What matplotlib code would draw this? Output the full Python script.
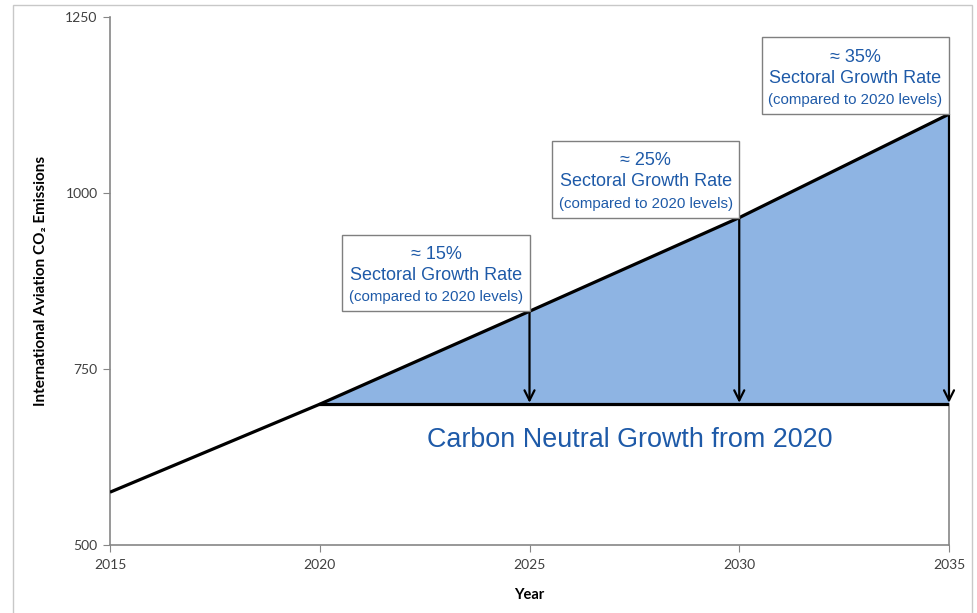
import matplotlib.pyplot as plt
import matplotlib.patches as patches

# emissions path
years = [2015, 2020, 2025, 2030, 2035]
emissions = [575, 700, 832, 965, 1112]
baseline = 700
base_year = 2020

arrow_years = [2025, 2030, 2035]
growth_labels = ['\u2248 15%', '\u2248 25%', '\u2248 35%']

text_blue = '#1E5AA8'
fill_blue = '#8EB4E3'
label_font = ['Lato', 'DejaVu Sans']
box_font = ['Liberation Sans', 'DejaVu Sans']

fig = plt.figure(figsize=(9.77, 6.13), dpi=100)
ax = fig.add_axes([110 / 977, 68 / 613, 839 / 977, 528 / 613])

# light frame round the whole chart
fig.patches.append(patches.Rectangle((13 / 977, -0.01), 959 / 977, 1 - 5 / 613 + 0.01,
                                     transform=fig.transFigure, fill=False,
                                     edgecolor='#c8c8c8', linewidth=1))

# shaded growth wedge above the 2020 level
xs = [y for y in years if y >= base_year]
ys = [e for y, e in zip(years, emissions) if y >= base_year]
ax.fill_between(xs, [baseline] * len(xs), ys, color=fill_blue, linewidth=0, zorder=1)

ax.plot(years, emissions, color='black', linewidth=2.3, zorder=3, solid_capstyle='butt')
ax.plot([base_year, years[-1]], [baseline, baseline], color='black', linewidth=2.3, zorder=3)

for yr in arrow_years:
    top = emissions[years.index(yr)]
    ax.annotate('', xy=(yr, baseline + 2), xytext=(yr, top),
                arrowprops=dict(arrowstyle='->', color='black', lw=1.6,
                                mutation_scale=18, shrinkA=0, shrinkB=0),
                zorder=4)

# callout boxes, bottom-right corner on the line
box_w = 4.46
box_h = 109
px = 250 / 176
for yr, lab in zip(arrow_years, growth_labels):
    top = emissions[years.index(yr)]
    ax.add_patch(patches.Rectangle((yr - box_w, top), box_w, box_h, facecolor='white',
                                   edgecolor='#7f7f7f', linewidth=1, zorder=5, clip_on=False))
    cx = yr - box_w / 2
    ax.text(cx, top + 57 * px, lab, ha='center', va='center', color=text_blue,
            fontsize=13, family=box_font, zorder=6)
    ax.text(cx, top + 36 * px, 'Sectoral Growth Rate', ha='center', va='center',
            color=text_blue, fontsize=13, family=box_font, zorder=6)
    ax.text(cx, top + 14 * px, '(compared to 2020 levels)', ha='center', va='center',
            color=text_blue, fontsize=10.8, family=box_font, zorder=6)

ax.text(2027.4, 649, 'Carbon Neutral Growth from 2020', ha='center', va='center',
        color=text_blue, fontsize=19.4, family=box_font)

ax.set_xlim(2015, 2035)
ax.set_ylim(500, 1250)
ax.set_xticks([2015, 2020, 2025, 2030, 2035])
ax.set_yticks([500, 750, 1000, 1250])

for side in ['left', 'bottom', 'right']:
    ax.spines[side].set_color('#868686')
    ax.spines[side].set_linewidth(1.2)
ax.spines['right'].set_bounds(500, baseline)
ax.spines['top'].set_visible(False)
ax.tick_params(axis='both', direction='out', length=5, color='#868686',
               labelcolor='#404040', labelsize=10)
ax.tick_params(axis='y', pad=4)
ax.tick_params(axis='x', pad=5)
for t in ax.get_xticklabels() + ax.get_yticklabels():
    t.set_family(label_font)

ax.set_xlabel('Year', fontsize=10.5, fontweight='bold', family=label_font, labelpad=12)
ax.set_ylabel('International Aviation CO\u2082 Emissions', fontsize=11,
              fontweight='bold', family=label_font, labelpad=12)

fig.savefig('out.png', dpi=100)
